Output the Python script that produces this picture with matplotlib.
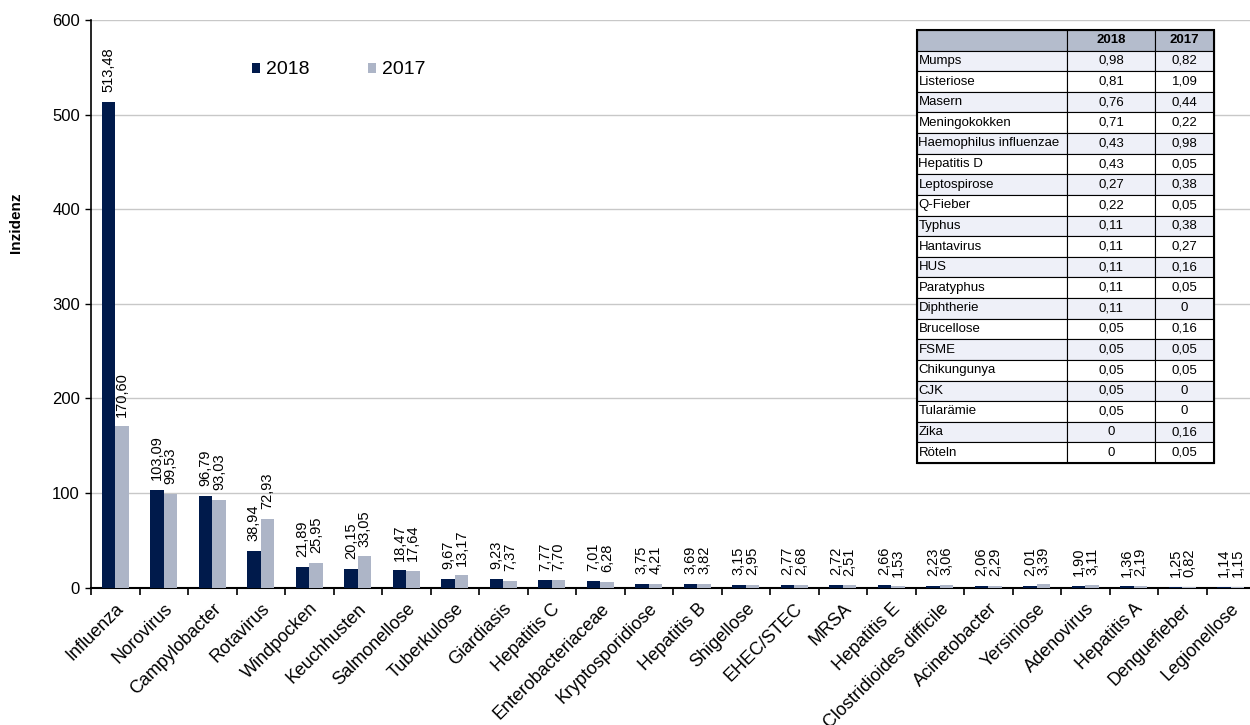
import numpy as np
import matplotlib.pyplot as plt
from matplotlib.patches import Rectangle

plt.rcParams['font.family'] = ['Liberation Sans', 'DejaVu Sans']

# Inzidenz je Erreger, 2018 gegenüber 2017
categories = ['Influenza', 'Norovirus', 'Campylobacter', 'Rotavirus', 'Windpocken',
              'Keuchhusten', 'Salmonellose', 'Tuberkulose', 'Giardiasis', 'Hepatitis C',
              'Enterobacteriaceae', 'Kryptosporidiose', 'Hepatitis B', 'Shigellose',
              'EHEC/STEC', 'MRSA', 'Hepatitis E', 'Clostridioides difficile',
              'Acinetobacter', 'Yersiniose', 'Adenovirus', 'Hepatitis A',
              'Denguefieber', 'Legionellose']
values_2018 = [513.48, 103.09, 96.79, 38.94, 21.89, 20.15, 18.47, 9.67, 9.23, 7.77,
               7.01, 3.75, 3.69, 3.15, 2.77, 2.72, 2.66, 2.23, 2.06, 2.01, 1.90,
               1.36, 1.25, 1.14]
values_2017 = [170.60, 99.53, 93.03, 72.93, 25.95, 33.05, 17.64, 13.17, 7.37, 7.70,
               6.28, 4.21, 3.82, 2.95, 2.68, 2.51, 1.53, 3.06, 2.29, 3.39, 3.11,
               2.19, 0.82, 1.15]

# seltene Erreger in der Tabelle
table_names = ['Mumps', 'Listeriose', 'Masern', 'Meningokokken', 'Haemophilus influenzae',
               'Hepatitis D', 'Leptospirose', 'Q-Fieber', 'Typhus', 'Hantavirus', 'HUS',
               'Paratyphus', 'Diphtherie', 'Brucellose', 'FSME', 'Chikungunya', 'CJK',
               'Tularämie', 'Zika', 'Röteln']
table_2018 = [0.98, 0.81, 0.76, 0.71, 0.43, 0.43, 0.27, 0.22, 0.11, 0.11, 0.11,
              0.11, 0.11, 0.05, 0.05, 0.05, 0.05, 0.05, 0, 0]
table_2017 = [0.82, 1.09, 0.44, 0.22, 0.98, 0.05, 0.38, 0.05, 0.38, 0.27, 0.16,
              0.05, 0, 0.16, 0.05, 0.05, 0, 0, 0.16, 0.05]

dark = '#001A4B'
light = '#ADB5C7'


def fmt(v):
    if v == 0:
        return '0'
    return f'{v:.2f}'.replace('.', ',')


W, H = 1250, 725
fig = plt.figure(figsize=(12.5, 7.25), dpi=100)
ax = fig.add_axes([91 / W, 1 - 587.7 / H, (1255 - 91) / W, 567.7 / H])

x = np.arange(len(categories))
bw = 0.283
b1 = ax.bar(x - bw / 2, values_2018, bw, color=dark, label='2018', zorder=3)
b2 = ax.bar(x + bw / 2, values_2017, bw, color=light, label='2017', zorder=3)

for bars, vals in ((b1, values_2018), (b2, values_2017)):
    for rect, v in zip(bars, vals):
        ax.annotate(fmt(v), (rect.get_x() + rect.get_width() / 2, v),
                    xytext=(0, 7), textcoords='offset points',
                    rotation=90, ha='center', va='bottom', fontsize=10.5, zorder=4)

ax.set_xlim(-0.5, len(categories) - 0.5)
ax.set_ylim(0, 600)
ax.set_yticks(range(0, 601, 100))
ax.yaxis.grid(True, color='#C8C8C8', linewidth=1)
ax.set_axisbelow(True)
ax.tick_params(axis='y', labelsize=12, length=4, width=1, pad=4)

# Trennstriche zwischen den Kategorien, Beschriftung mittig
ax.set_xticks(x - 0.5, minor=False)
ax.set_xticklabels([])
ax.set_xticks(x, minor=True)
ax.set_xticklabels(categories, minor=True, rotation=45, ha='right',
                   rotation_mode='anchor', fontsize=13)
ax.tick_params(axis='x', which='major', length=5, width=1.2)
ax.tick_params(axis='x', which='minor', length=0, pad=9)

for s in ('top', 'right'):
    ax.spines[s].set_visible(False)
ax.spines['left'].set_linewidth(1.2)
ax.spines['bottom'].set_linewidth(1.5)

fig.text(16 / W, 1 - 223 / H, 'Inzidenz', rotation=90, ha='center', va='center',
         fontsize=11, fontweight='bold')

ax.legend(loc='center left', bbox_to_anchor=(252 / W, 1 - 70 / H),
          bbox_transform=fig.transFigure, frameon=False, ncol=2, fontsize=14,
          handlelength=0.42, handleheight=0.42, handletextpad=0.3,
          columnspacing=3.0, borderpad=0, borderaxespad=0)

# Tabelle
tx0, ty0, tx1, ty1 = 917, 30, 1214, 463
tax = fig.add_axes([tx0 / W, 1 - ty1 / H, (tx1 - tx0) / W, (ty1 - ty0) / H])
tax.axis('off')
cell_text = [[n, fmt(a), fmt(b)] for n, a, b in zip(table_names, table_2018, table_2017)]
cell_colours = [['#EEF0F8'] * 3 if i % 2 == 0 else ['white'] * 3
                for i in range(len(table_names))]
tbl = tax.table(cellText=cell_text, colLabels=['', '2018', '2017'],
                cellColours=cell_colours, colColours=['#B4BCCC'] * 3,
                colWidths=[150, 88, 59], cellLoc='center', colLoc='center',
                bbox=[0, 0, 1, 1])
tbl.auto_set_font_size(False)
for (r, c), cell in tbl.get_celld().items():
    cell.set_linewidth(0.8)
    cell.set_edgecolor('black')
    cell.get_text().set_fontsize(9.5)
    if r == 0:
        cell.get_text().set_fontweight('bold')
    if c == 0:
        cell._loc = 'left'
        cell.get_text().set_ha('left')
        cell.PAD = 0.01
tax.add_patch(Rectangle((0, 0), 1, 1, transform=tax.transAxes, fill=False,
                        edgecolor='black', linewidth=1.5, zorder=10, clip_on=False))

fig.savefig('out.png', dpi=100)
